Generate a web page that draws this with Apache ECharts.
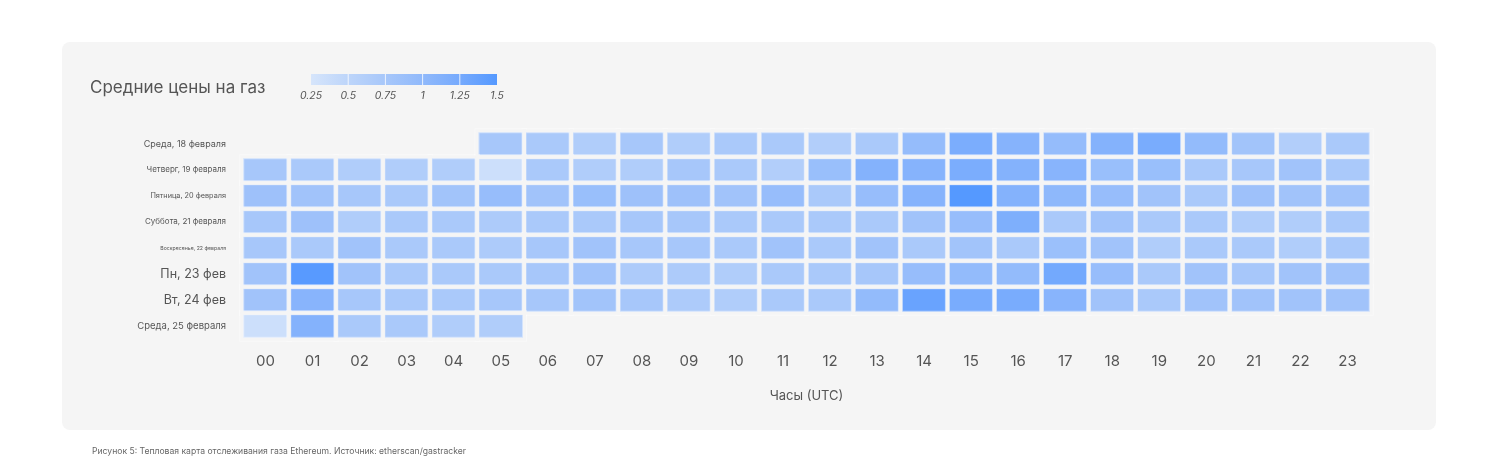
<!DOCTYPE html>
<html><head><meta charset="utf-8">
<script src="https://cdn.jsdelivr.net/npm/echarts@6/dist/echarts.min.js"></script>
<style>html,body{margin:0;padding:0;background:#ffffff;}#c{width:1508px;height:472px;}</style>
</head><body><div id="c"></div>
<script>
const hours = ['00','01','02','03','04','05','06','07','08','09','10','11','12','13','14','15','16','17','18','19','20','21','22','23'];
const days = ['Среда, 18 февраля','Четверг, 19 февраля','Пятница, 20 февраля','Суббота, 21 февраля','Воскресенье, 22 февраля','Пн, 23 фев','Вт, 24 фев','Среда, 25 февраля'];
const wed18 = [null,null,null,null,null,0.75,0.72,0.65,0.75,0.65,0.72,0.72,0.62,0.72,0.95,1.2,1.1,0.95,1.12,1.22,0.97,0.8,0.62,0.72];
const thu19 = [0.75,0.72,0.65,0.65,0.65,0.35,0.72,0.65,0.65,0.75,0.72,0.62,0.9,1.12,1.1,1.2,1.12,1.08,0.9,0.9,0.72,0.75,0.82,0.72];
const fri20 = [0.85,0.82,0.75,0.72,0.8,0.92,0.82,0.9,0.85,0.85,0.82,0.92,0.72,0.92,1.1,1.5,1.12,1.02,0.92,0.82,0.72,0.85,0.82,0.82];
const sat21 = [0.75,0.85,0.65,0.72,0.72,0.68,0.72,0.72,0.75,0.75,0.72,0.72,0.72,0.72,0.82,0.92,1.17,0.72,0.82,0.72,0.72,0.65,0.65,0.72];
const sun22 = [0.75,0.72,0.82,0.72,0.72,0.68,0.75,0.82,0.75,0.75,0.72,0.82,0.72,0.82,0.72,0.8,0.72,0.88,0.82,0.65,0.72,0.72,0.65,0.72];
const mon23 = [0.82,1.48,0.82,0.72,0.72,0.72,0.75,0.82,0.68,0.68,0.65,0.72,0.72,0.75,0.92,0.97,0.97,1.27,0.92,0.72,0.82,0.75,0.82,0.82];
const tue24 = [0.82,1.08,0.75,0.72,0.72,0.75,0.75,0.8,0.75,0.68,0.65,0.72,0.72,0.97,1.35,1.22,1.22,1.08,0.82,0.72,0.82,0.82,0.82,0.82];
const wed25 = [0.35,1.12,0.72,0.72,0.65,0.65,null,null,null,null,null,null,null,null,null,null,null,null,null,null,null,null,null,null];
const legendTicks = [0.25,0.5,0.75,1,1.25,1.5];

const rows = [wed18,thu19,fri20,sat21,sun22,mon23,tue24,wed25];
const cells = [];
rows.forEach((r,yi)=>r.forEach((v,xi)=>{ if(v!==null) cells.push([xi,yi,v]); }));

const rampColors = ['#d6e5fb','#bdd5fa','#a7c7fa','#90b9fb','#76aafd','#5599ff'];
const FONT = 'Inter, "Noto Sans", sans-serif';
const ySizes = [9,8,7.3,8,5.2,12.5,12.5,9.5];

// legend graphic
const lgX = 311, lgW = 186, lgY = 74, lgH = 11;
const vmin = legendTicks[0], vmax = legendTicks[legendTicks.length-1];
const pos = v => lgX + (v - vmin)/(vmax - vmin)*lgW;
const legendEls = [{
  type:'rect', shape:{x:lgX,y:lgY,width:lgW,height:lgH},
  style:{fill:new echarts.graphic.LinearGradient(0,0,1,0, rampColors.map((c,i)=>({offset:i/(rampColors.length-1),color:c})))}
}];
legendTicks.slice(1,-1).forEach(t=>legendEls.push({type:'rect',shape:{x:pos(t)-0.5,y:lgY,width:1,height:lgH},style:{fill:'rgba(255,255,255,0.8)'}}));
legendTicks.forEach(t=>legendEls.push({type:'text',x:pos(t),y:96,style:{text:String(t),fill:'#555',font:'italic 10.5px '+FONT,align:'center',verticalAlign:'middle'}}));

const chart = echarts.init(document.getElementById('c'));
chart.setOption({
  backgroundColor:'#ffffff',
  animation:false,
  graphic:[
    {type:'rect', z:-10, shape:{x:62,y:42,width:1374,height:388,r:8}, style:{fill:'#f5f5f5'}},
    {type:'text', x:90, y:88, style:{text:'Средние цены на газ', fill:'#555', font:'17px '+FONT, verticalAlign:'middle'}},
    {type:'text', x:92, y:451, style:{text:'Рисунок 5: Тепловая карта отслеживания газа Ethereum. Источник: etherscan/gastracker', fill:'#666', font:'8.6px '+FONT, verticalAlign:'middle'}},
    ...legendEls
  ],
  grid:{left:242, right:137, top:131, bottom:133},
  xAxis:{type:'category', data:hours, axisLine:{show:false}, axisTick:{show:false}, splitLine:{show:false},
    axisLabel:{color:'#555', fontSize:15, fontFamily:FONT, margin:15},
    name:'Часы (UTC)', nameLocation:'middle', nameGap:51, nameTextStyle:{color:'#555', fontSize:13, fontFamily:FONT}},
  yAxis:{type:'category', data:days, inverse:true, axisLine:{show:false}, axisTick:{show:false}, splitLine:{show:false},
    axisLabel:{margin:16, color:'#555', fontFamily:FONT,
      formatter:(v,i)=>'{s'+i+'|'+v+'}',
      rich: Object.fromEntries(ySizes.map((s,i)=>['s'+i,{fontSize:s,color:'#555',fontFamily:FONT}]))}},
  visualMap:{show:false, type:'continuous', min:vmin, max:vmax, seriesIndex:0, dimension:2, inRange:{color:rampColors}},
  series:[
    {type:'heatmap', data:cells, itemStyle:{borderColor:'rgba(255,255,255,0.45)', borderWidth:5}, emphasis:{disabled:true}},
    {type:'heatmap', data:cells, itemStyle:{color:'rgba(0,0,0,0)', borderColor:'#f5f5f5', borderWidth:3}, emphasis:{disabled:true}, silent:true}
  ]
});
</script></body></html>
